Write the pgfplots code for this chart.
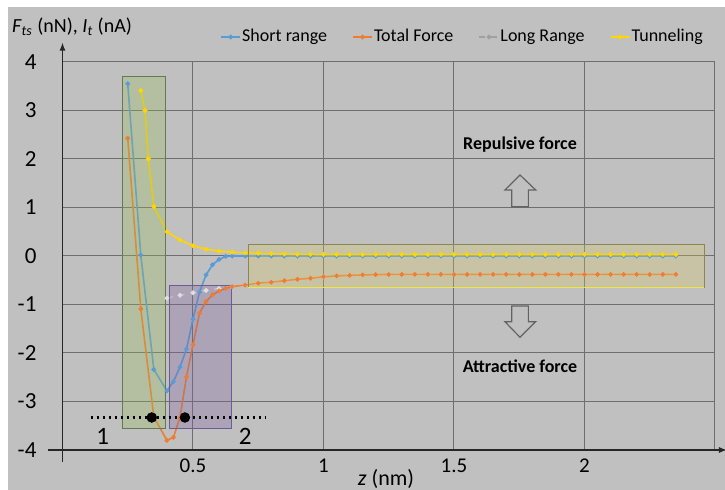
\documentclass[border=0pt]{standalone}
\usepackage{fontspec}
\setmainfont{Carlito}
\usepackage{pgfplots}
\pgfplotsset{compat=1.18}
\usetikzlibrary{arrows.meta}

\definecolor{srblue}{RGB}{91,155,213}
\definecolor{tforange}{RGB}{237,125,49}
\definecolor{lrgray}{RGB}{222,222,222}
\definecolor{lrlegend}{RGB}{160,160,160}
\definecolor{tnyellow}{RGB}{255,214,0}
\definecolor{bgc}{RGB}{192,192,192}
\definecolor{gridc}{RGB}{110,110,110}
\definecolor{boxgreen}{RGB}{155,187,89}
\definecolor{boxgreenline}{RGB}{100,120,85}
\definecolor{boxpurple}{RGB}{128,100,162}
\definecolor{boxpurpleline}{RGB}{110,90,150}
\definecolor{boxolive}{RGB}{219,202,102}
\definecolor{boxoliveline}{RGB}{140,135,80}
\definecolor{boxyellowline}{RGB}{240,230,60}

\begin{document}
\begin{tikzpicture}
% page = 725 x 490 px, 1 px = 0.5pt, axis lower-left at px (62.5,450)
\useasboundingbox (-31.25pt,-20pt) rectangle (331.25pt,225pt);
\fill[white] (-31.25pt,-20pt) rectangle (331.25pt,225pt);
\fill[bgc] (-27.25pt,-20pt) rectangle (331.25pt,221.5pt);
\node[anchor=base west, inner sep=0pt, font=\fontsize{10}{12}\selectfont]
  at (-25.4pt,208.5pt) {\textit{F}\textsubscript{\textit{ts}} (nN), \textit{I}\textsubscript{\textit{t}} (nA)};
\node[anchor=base, inner sep=0pt, font=\fontsize{11}{13}\selectfont]
  at (161.75pt,-17.6pt) {\textit{z} (nm)};
\begin{axis}[
  at={(0pt,0pt)}, anchor=south west,
  scale only axis, width=326.25pt, height=194pt,
  xmin=0, xmax=2.5, ymin=-4, ymax=4,
  xtick={0,0.5,1,1.5,2,2.5}, xticklabels={,0.5,1,1.5,2,},
  ytick={-4,-3,-2,-1,0,1,2,3,4},
  /pgf/number format/assume math mode=true,
  xticklabel style={font=\fontsize{10.5}{12}\selectfont, yshift=-1pt},
  yticklabel style={font=\fontsize{11.5}{13}\selectfont, xshift=-9.5pt},
  grid=major, major grid style={gridc, line width=0.5pt},
  axis line style={draw=none}, tick style={draw=none},
  clip=false,
  legend columns=4,
  legend style={at={(axis description cs:0.2322,1.0644)}, anchor=west,
    draw=none, fill=none, font=\fontsize{9}{11}\selectfont,
    nodes={inner sep=0.6pt},
    /tikz/every even column/.append style={column sep=12pt}},
  legend image code/.code={\draw[mark repeat=2,mark phase=2,#1]
    plot coordinates {(0pt,0pt) (4.75pt,0pt) (9.5pt,0pt)};},
  every axis plot/.append style={line width=0.8pt, mark size=0.75pt},
]
% long range (drawn first, under the total force)
\addplot[lrgray, dashed, mark=*, mark options={solid, fill=white, draw=lrgray}, forget plot] coordinates {
  (0.40,-0.87) (0.45,-0.81) (0.50,-0.76) (0.55,-0.71) (0.60,-0.67) (0.65,-0.63)
  (0.70,-0.60) (0.75,-0.56) (0.80,-0.54) (0.85,-0.51) (0.90,-0.48) (0.95,-0.46)
  (1.00,-0.43) (1.05,-0.41) (1.10,-0.40) (1.15,-0.39) (1.20,-0.385) (1.25,-0.38)
  (1.30,-0.38) (1.35,-0.38) (1.40,-0.38) (1.45,-0.38) (1.50,-0.38) (1.55,-0.38)
  (1.60,-0.38) (1.65,-0.38) (1.70,-0.38) (1.75,-0.38) (1.80,-0.38) (1.85,-0.38)
  (1.90,-0.38) (1.95,-0.38) (2.00,-0.38) (2.05,-0.38) (2.10,-0.38) (2.15,-0.38)
  (2.20,-0.38) (2.25,-0.38) (2.30,-0.38) (2.35,-0.38)
};
% short range
\addplot[srblue, mark=*, mark options={fill=srblue!45!white}] coordinates {
  (0.25,3.55) (0.30,0.02) (0.35,-2.34) (0.40,-2.78) (0.425,-2.59) (0.45,-2.29)
  (0.475,-1.92) (0.50,-1.30) (0.525,-0.74) (0.55,-0.39) (0.575,-0.18) (0.60,-0.07)
  (0.625,-0.01) (0.65,0.00) (0.70,0.00) (0.75,0.00) (0.80,0.00) (0.85,0.00)
  (0.90,0.00) (0.95,0.00) (1.00,0.00) (1.05,0.00) (1.10,0.00) (1.15,0.00)
  (1.20,0.00) (1.25,0.00) (1.30,0.00) (1.35,0.00) (1.40,0.00) (1.45,0.00)
  (1.50,0.00) (1.55,0.00) (1.60,0.00) (1.65,0.00) (1.70,0.00) (1.75,0.00)
  (1.80,0.00) (1.85,0.00) (1.90,0.00) (1.95,0.00) (2.00,0.00) (2.05,0.00)
  (2.10,0.00) (2.15,0.00) (2.20,0.00) (2.25,0.00) (2.30,0.00) (2.35,0.00)
};
\addlegendentry{Short range}
% total force
\addplot[tforange, mark=*, mark options={fill=tforange!40!white}] coordinates {
  (0.25,2.43) (0.30,-1.09) (0.35,-3.32) (0.40,-3.80) (0.425,-3.74) (0.45,-3.33)
  (0.475,-2.49) (0.50,-1.83) (0.525,-1.18) (0.55,-0.94) (0.575,-0.80) (0.60,-0.72)
  (0.625,-0.67) (0.65,-0.63) (0.70,-0.60) (0.75,-0.56) (0.80,-0.54) (0.85,-0.51)
  (0.90,-0.48) (0.95,-0.46) (1.00,-0.43) (1.05,-0.41) (1.10,-0.40) (1.15,-0.39)
  (1.20,-0.385) (1.25,-0.38) (1.30,-0.38) (1.35,-0.38) (1.40,-0.38) (1.45,-0.38)
  (1.50,-0.38) (1.55,-0.38) (1.60,-0.38) (1.65,-0.38) (1.70,-0.38) (1.75,-0.38)
  (1.80,-0.38) (1.85,-0.38) (1.90,-0.38) (1.95,-0.38) (2.00,-0.38) (2.05,-0.38)
  (2.10,-0.38) (2.15,-0.38) (2.20,-0.38) (2.25,-0.38) (2.30,-0.38) (2.35,-0.38)
};
\addlegendentry{Total Force}
\addlegendimage{lrlegend, dashed, mark=*, mark options={solid, fill=lrgray, draw=lrlegend}}
\addlegendentry{Long Range}
% tunneling current
\addplot[tnyellow, mark=*, mark options={fill=tnyellow!30!white, draw=tnyellow}] coordinates {
  (0.30,3.41) (0.316,3.00) (0.329,2.00) (0.35,1.02) (0.40,0.50) (0.45,0.33)
  (0.50,0.21) (0.55,0.14) (0.60,0.10) (0.65,0.08) (0.70,0.065) (0.75,0.055)
  (0.80,0.045) (0.85,0.04) (0.90,0.035) (0.95,0.033) (1.00,0.03) (1.05,0.03)
  (1.10,0.03) (1.15,0.03) (1.20,0.03) (1.25,0.03) (1.30,0.03) (1.35,0.03)
  (1.40,0.03) (1.45,0.03) (1.50,0.03) (1.55,0.03) (1.60,0.03) (1.65,0.03)
  (1.70,0.03) (1.75,0.03) (1.80,0.03) (1.85,0.03) (1.90,0.03) (1.95,0.03)
  (2.00,0.03) (2.05,0.03) (2.10,0.03) (2.15,0.03) (2.20,0.03) (2.25,0.03)
  (2.30,0.03) (2.35,0.03)
};
\addlegendentry{Tunneling}
% shaded regions
\draw[fill=boxgreen, fill opacity=0.3, draw=boxgreenline, line width=0.5pt]
  (axis cs:0.228,-3.55) rectangle (axis cs:0.393,3.71);
\draw[fill=boxpurple, fill opacity=0.3, draw=boxpurpleline, line width=0.5pt]
  (axis cs:0.409,-3.55) rectangle (axis cs:0.648,-0.61);
\draw[fill=boxolive, fill opacity=0.3, draw=boxoliveline, line width=0.5pt]
  (axis cs:0.712,-0.645) rectangle (axis cs:2.458,0.24);
\draw[boxyellowline, line width=0.7pt]
  (axis cs:0.712,-0.645) -- (axis cs:2.458,-0.645);
% dotted level line and the two crossing points
\addplot[black, line width=1.3pt, dash pattern=on 1.2pt off 1.8pt, mark=none, forget plot]
  coordinates {(0.108,-3.33) (0.779,-3.33)};
\addplot[only marks, mark=*, mark size=2.2pt, black, forget plot]
  coordinates {(0.342,-3.33) (0.469,-3.33)};
\node[font=\fontsize{12.5}{14}\selectfont] at (axis cs:0.154,-3.72) {1};
\node[font=\fontsize{12.5}{14}\selectfont] at (axis cs:0.70,-3.72) {2};
% force direction annotations
\node[font=\fontsize{9}{11}\selectfont\bfseries] at (axis cs:1.753,2.29) {Repulsive force};
\node[font=\fontsize{9}{11}\selectfont\bfseries] at (axis cs:1.753,-2.28) {Attractive force};
\draw[gridc!90!black, line width=0.6pt]
  (axis cs:1.753,1.670) -- (axis cs:1.813,1.361) -- (axis cs:1.785,1.361)
  -- (axis cs:1.785,1.016) -- (axis cs:1.721,1.016) -- (axis cs:1.721,1.361)
  -- (axis cs:1.695,1.361) -- cycle;
\draw[gridc!90!black, line width=0.6pt]
  (axis cs:1.753,-1.676) -- (axis cs:1.813,-1.354) -- (axis cs:1.785,-1.354)
  -- (axis cs:1.785,-1.031) -- (axis cs:1.721,-1.031) -- (axis cs:1.721,-1.354)
  -- (axis cs:1.695,-1.354) -- cycle;
% axis lines with arrows
\draw[black!85, line width=0.6pt, -{Latex[length=4pt,width=3pt]}]
  (axis cs:0,-4.24) -- (axis cs:0,4.40);
\draw[black!85, line width=0.6pt, -{Latex[length=4pt,width=3pt]}]
  (axis cs:-0.056,-4) -- (axis cs:2.546,-4);
\end{axis}
\end{tikzpicture}
\end{document}
